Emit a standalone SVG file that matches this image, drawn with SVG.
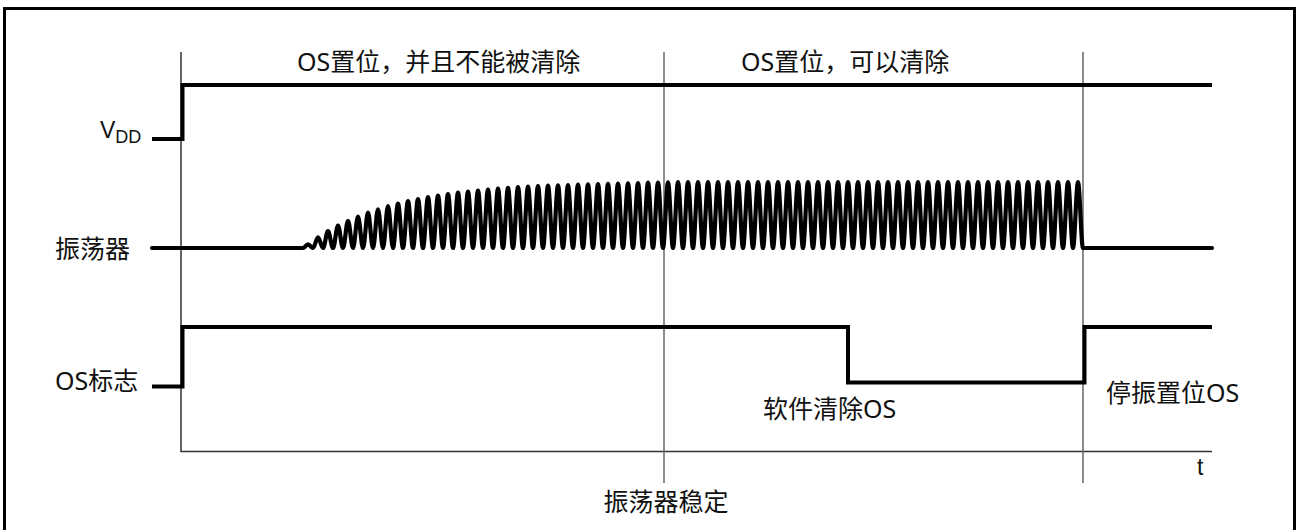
<svg xmlns="http://www.w3.org/2000/svg" width="1296" height="530" viewBox="0 0 1296 530">
<style>
.frame{fill:none;stroke:#000;stroke-width:3}
.thin{fill:none;stroke:#333;stroke-width:1.5}
.sep{fill:none;stroke:#666;stroke-width:1.5}
.sig{fill:none;stroke:#000;stroke-width:4;stroke-linejoin:miter;stroke-linecap:butt}
.osc{fill:none;stroke:#000;stroke-width:4.2;stroke-linejoin:round;stroke-linecap:round}
.cn{font-family:"Noto Sans","Noto Sans CJK SC",sans-serif;font-size:25px;fill:#111}
.lat{font-family:"Liberation Sans",Arial,sans-serif;fill:#111}
</style>
<rect class="frame" x="4.5" y="8.5" width="1290" height="540"/>
<g id="connectors">
<path class="thin" d="M181,52 V451.5 H1212"/>
<path class="sep" d="M664,52 V483"/>
<path class="sep" d="M1083,52 V483"/>
</g>
<g id="vdd">
<path class="sig" d="M152,139 H182.5 V85 H1212"/>
<text class="lat" x="100" y="138" font-size="23">V<tspan font-size="18" dy="5">DD</tspan></text>
</g>
<g id="oscillator">
<path class="osc" d="M152,248 H303 c1.8,0 3.2,-3.7 5,-3.7 c1.8,0 3.2,3.7 5,3.7 c1.8,0 3.2,-10.6 5,-10.6 c1.8,0 3.2,10.6 5,10.6 c1.8,0 3.2,-16.8 5,-16.8 c1.8,0 3.2,16.8 5,16.8 c1.8,0 3.2,-22.3 5,-22.3 c1.8,0 3.2,22.3 5,22.3 c1.8,0 3.2,-27.1 5,-27.1 c1.8,0 3.2,27.1 5,27.1 c1.8,0 3.2,-31.4 5,-31.4 c1.8,0 3.2,31.4 5,31.4 c1.8,0 3.2,-35.3 5,-35.3 c1.8,0 3.2,35.3 5,35.3 c1.8,0 3.2,-38.7 5,-38.7 c1.8,0 3.2,38.7 5,38.7 c1.8,0 3.2,-41.8 5,-41.8 c1.8,0 3.2,41.8 5,41.8 c1.8,0 3.2,-44.4 5,-44.4 c1.8,0 3.2,44.4 5,44.4 c1.8,0 3.2,-46.8 5,-46.8 c1.8,0 3.2,46.8 5,46.8 c1.8,0 3.2,-49 5,-49 c1.8,0 3.2,49 5,49 c1.8,0 3.2,-50.8 5,-50.8 c1.8,0 3.2,50.8 5,50.8 c1.8,0 3.2,-52.5 5,-52.5 c1.8,0 3.2,52.5 5,52.5 c1.8,0 3.2,-54 5,-54 c1.8,0 3.2,54 5,54 c1.8,0 3.2,-55.4 5,-55.4 c1.8,0 3.2,55.4 5,55.4 c1.8,0 3.2,-56.5 5,-56.5 c1.8,0 3.2,56.5 5,56.5 c1.8,0 3.2,-57.5 5,-57.5 c1.8,0 3.2,57.5 5,57.5 c1.8,0 3.2,-58.5 5,-58.5 c1.8,0 3.2,58.5 5,58.5 c1.8,0 3.2,-59.3 5,-59.3 c1.8,0 3.2,59.3 5,59.3 c1.8,0 3.2,-60.1 5,-60.1 c1.8,0 3.2,60.1 5,60.1 c1.8,0 3.2,-60.8 5,-60.8 c1.8,0 3.2,60.8 5,60.8 c1.8,0 3.2,-61.4 5,-61.4 c1.8,0 3.2,61.4 5,61.4 c1.8,0 3.2,-61.8 5,-61.8 c1.8,0 3.2,61.8 5,61.8 c1.8,0 3.2,-62.3 5,-62.3 c1.8,0 3.2,62.3 5,62.3 c1.8,0 3.2,-62.7 5,-62.7 c1.8,0 3.2,62.7 5,62.7 c1.8,0 3.2,-63 5,-63 c1.8,0 3.2,63 5,63 c1.8,0 3.2,-63.4 5,-63.4 c1.8,0 3.2,63.4 5,63.4 c1.8,0 3.2,-63.7 5,-63.7 c1.8,0 3.2,63.7 5,63.7 c1.8,0 3.2,-63.9 5,-63.9 c1.8,0 3.2,63.9 5,63.9 c1.8,0 3.2,-64.1 5,-64.1 c1.8,0 3.2,64.1 5,64.1 c1.8,0 3.2,-64.4 5,-64.4 c1.8,0 3.2,64.4 5,64.4 c1.8,0 3.2,-64.7 5,-64.7 c1.8,0 3.2,64.7 5,64.7 c1.8,0 3.2,-65 5,-65 c1.8,0 3.2,65 5,65 c1.8,0 3.2,-65.3 5,-65.3 c1.8,0 3.2,65.3 5,65.3 c1.8,0 3.2,-65.5 5,-65.5 c1.8,0 3.2,65.5 5,65.5 c1.8,0 3.2,-65.7 5,-65.7 c1.8,0 3.2,65.7 5,65.7 c1.8,0 3.2,-65.9 5,-65.9 c1.8,0 3.2,65.9 5,65.9
c1.8,0 3.2,-66 5,-66 c1.8,0 3.2,66 5,66 c1.8,0 3.2,-66 5,-66 c1.8,0 3.2,66 5,66 c1.8,0 3.2,-66 5,-66 c1.8,0 3.2,66 5,66 c1.8,0 3.2,-66 5,-66 c1.8,0 3.2,66 5,66 c1.8,0 3.2,-66 5,-66 c1.8,0 3.2,66 5,66 c1.8,0 3.2,-66 5,-66 c1.8,0 3.2,66 5,66 c1.8,0 3.2,-66 5,-66 c1.8,0 3.2,66 5,66 c1.8,0 3.2,-66 5,-66 c1.8,0 3.2,66 5,66 c1.8,0 3.2,-66 5,-66 c1.8,0 3.2,66 5,66 c1.8,0 3.2,-66 5,-66 c1.8,0 3.2,66 5,66
c1.8,0 3.2,-66 5,-66 c1.8,0 3.2,66 5,66 c1.8,0 3.2,-66 5,-66 c1.8,0 3.2,66 5,66 c1.8,0 3.2,-66 5,-66 c1.8,0 3.2,66 5,66 c1.8,0 3.2,-66 5,-66 c1.8,0 3.2,66 5,66 c1.8,0 3.2,-66 5,-66 c1.8,0 3.2,66 5,66 c1.8,0 3.2,-66 5,-66 c1.8,0 3.2,66 5,66 c1.8,0 3.2,-66 5,-66 c1.8,0 3.2,66 5,66 c1.8,0 3.2,-66 5,-66 c1.8,0 3.2,66 5,66 c1.8,0 3.2,-66 5,-66 c1.8,0 3.2,66 5,66 c1.8,0 3.2,-66 5,-66 c1.8,0 3.2,66 5,66
c1.8,0 3.2,-66 5,-66 c1.8,0 3.2,66 5,66 c1.8,0 3.2,-66 5,-66 c1.8,0 3.2,66 5,66 c1.8,0 3.2,-66 5,-66 c1.8,0 3.2,66 5,66 c1.8,0 3.2,-66 5,-66 c1.8,0 3.2,66 5,66 c1.8,0 3.2,-66 5,-66 c1.8,0 3.2,66 5,66 c1.8,0 3.2,-66 5,-66 c1.8,0 3.2,66 5,66 c1.8,0 3.2,-66 5,-66 c1.8,0 3.2,66 5,66 c1.8,0 3.2,-66 5,-66 c1.8,0 3.2,66 5,66 c1.8,0 3.2,-66 5,-66 c1.8,0 3.2,66 5,66 c1.8,0 3.2,-66 5,-66 c1.8,0 3.2,66 5,66
c1.8,0 3.2,-66 5,-66 c1.8,0 3.2,66 5,66 c1.8,0 3.2,-66 5,-66 c1.8,0 3.2,66 5,66 c1.8,0 3.2,-66 5,-66 c1.8,0 3.2,66 5,66 c1.8,0 3.2,-66 5,-66 c1.8,0 3.2,66 5,66 c1.8,0 3.2,-66 5,-66 c1.8,0 3.2,66 5,66 c1.8,0 3.2,-66 5,-66 c1.8,0 3.2,66 5,66 c1.8,0 3.2,-66 5,-66 c1.8,0 3.2,66 5,66 c1.8,0 3.2,-66 5,-66 c1.8,0 3.2,66 5,66 c1.8,0 3.2,-66 5,-66 c1.8,0 3.2,66 5,66 c1.8,0 3.2,-66 5,-66 c1.8,0 3.2,66 5,66
H1212"/>
<text class="cn" x="55" y="258">振荡器</text>
</g>
<g id="os-flag">
<path class="sig" d="M152,386.5 H182.5 V327 H848 V382.5 H1084.5 V327 H1212"/>
<text class="cn" x="55" y="390">OS标志</text>
</g>
<g id="labels">
<text class="cn" x="297" y="71">OS置位，并且不能被清除</text>
<text class="cn" x="741" y="71">OS置位，可以清除</text>
<text class="cn" x="763" y="418">软件清除OS</text>
<text class="cn" x="1106" y="402">停振置位OS</text>
<text class="cn" x="666" y="511" text-anchor="middle">振荡器稳定</text>
<text class="lat" x="1197" y="475" font-size="23">t</text>
</g>
</svg>
